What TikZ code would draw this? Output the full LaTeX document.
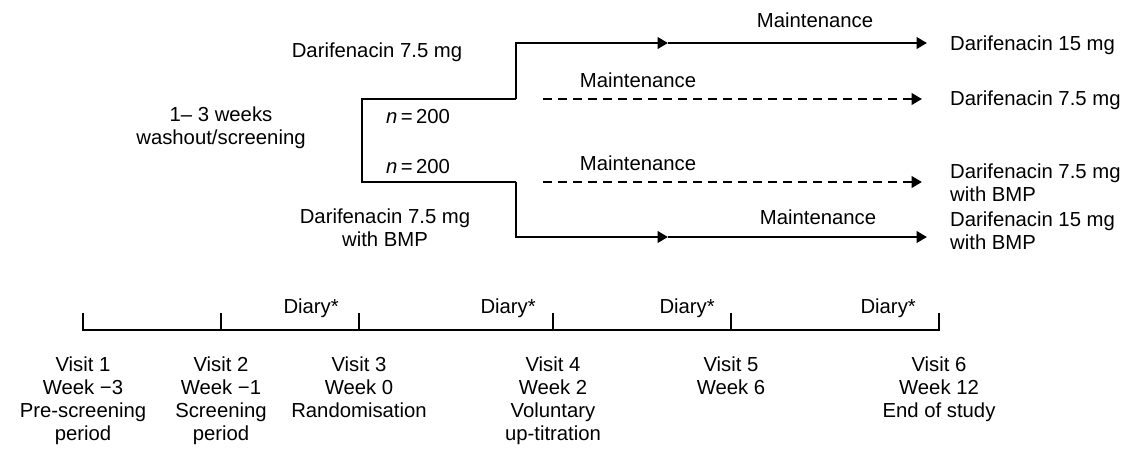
\documentclass[tikz,border=0pt]{standalone}
\usepackage{fontspec}
\setmainfont{Liberation Sans}
\usetikzlibrary{arrows.meta}
\begin{document}
\begin{tikzpicture}[x=1pt,y=-1pt,
  lbl/.style={inner sep=0pt,font=\fontsize{20.3}{23}\selectfont,align=center},
  rlbl/.style={lbl,anchor=west,align=left},
  arm/.style={line width=2.9pt,line cap=butt,line join=miter},
  tip/.style={-{Triangle[length=10.5pt,width=11.5pt]}},
  dasharm/.style={arm,dash pattern=on 9pt off 6pt}]
\useasboundingbox (0,0) rectangle (1124,458);
% coordinates of the arms
\coordinate (s1) at (362,99);
\coordinate (s2) at (362,182);
\coordinate (u1) at (516,99);
\coordinate (u2) at (516,43);
\coordinate (um) at (668,43);
\coordinate (ue) at (927,43);
\coordinate (d1) at (516,182);
\coordinate (d2) at (516,237);
\coordinate (dm) at (668,237);
\coordinate (de) at (927,237);
\coordinate (a1) at (543,99);
\coordinate (a1e) at (922,99);
\coordinate (b1) at (543,182);
\coordinate (b1e) at (922,182);
% arms
\draw[arm] (u1) -- (s1) -- (s2) -- (d1);
\draw[arm,tip] (u1) -- (u2) -- (um);
\draw[arm,tip] (um) -- (ue);
\draw[arm,tip] (d1) -- (d2) -- (dm);
\draw[arm,tip] (dm) -- (de);
\draw[dasharm,tip] (a1) -- (a1e);
\draw[dasharm,tip] (b1) -- (b1e);
% labels
\node[lbl] (tl) at (377,52) {Darifenacin 7.5 mg};
\node[lbl] (wash) at (221,128) {1– 3 weeks\\washout/screening};
\node[lbl] (n1) at (418,117) {\textit{n}\,=\,200};
\node[lbl] (n2) at (418,167) {\textit{n}\,=\,200};
\node[lbl] (bl) at (385,228) {Darifenacin 7.5 mg\\with BMP};
\node[lbl] (m1) at (815,20) {Maintenance};
\node[lbl] (m2) at (638,80) {Maintenance};
\node[lbl] (m3) at (638,163) {Maintenance};
\node[lbl] (m4) at (818,217) {Maintenance};
\node[rlbl] (r1) at (950,45) {Darifenacin 15 mg};
\node[rlbl] (r2) at (950,100) {Darifenacin 7.5 mg};
\node[rlbl] (r3) at (950,183) {Darifenacin 7.5 mg\\with BMP};
\node[rlbl] (r4) at (950,231) {Darifenacin 15 mg\\with BMP};
% timeline
\coordinate (t1) at (83,330);
\coordinate (t2) at (221,330);
\coordinate (t3) at (359,330);
\coordinate (t4) at (553,330);
\coordinate (t5) at (731,330);
\coordinate (t6) at (939,330);
\draw[arm] (t1) -- (t6);
\foreach \t in {t1,t2,t3,t4,t5,t6}
  \draw[arm] ([yshift=-1.45pt]\t) -- ([yshift=17pt]\t);
\node[lbl,anchor=east] (dy1) at (339,308) {Diary*};
\node[lbl,anchor=east] (dy2) at (536,308) {Diary*};
\node[lbl,anchor=east] (dy3) at (715,308) {Diary*};
\node[lbl,anchor=east] (dy4) at (916,308) {Diary*};
\node[lbl,anchor=north] (v1) at (83,357) {Visit 1\\Week −3\\Pre-screening\\period};
\node[lbl,anchor=north] (v2) at (221,357) {Visit 2\\Week −1\\Screening\\period};
\node[lbl,anchor=north] (v3) at (359,357) {Visit 3\\Week 0\\Randomisation};
\node[lbl,anchor=north] (v4) at (553,357) {Visit 4\\Week 2\\Voluntary\\up-titration};
\node[lbl,anchor=north] (v5) at (731,357) {Visit 5\\Week 6};
\node[lbl,anchor=north] (v6) at (939,357) {Visit 6\\Week 12\\End of study};
\end{tikzpicture}
\end{document}
